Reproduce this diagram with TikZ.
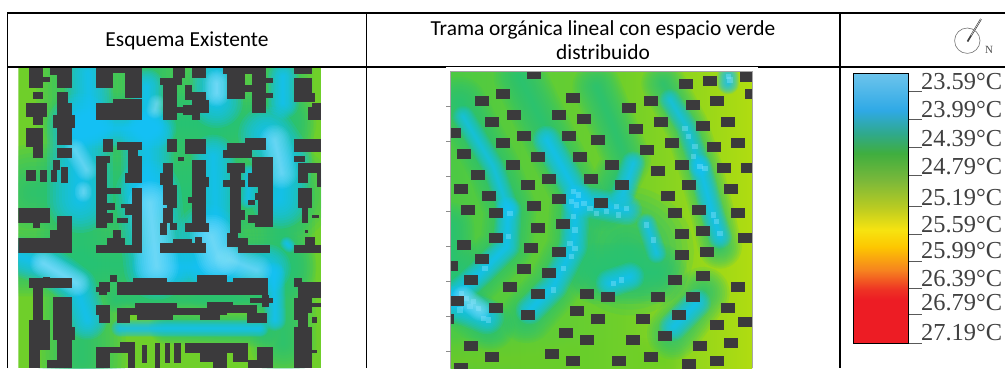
\documentclass[tikz,border=0pt]{standalone}
\usepackage{fontspec}
\setmainfont{Liberation Serif}
\newfontfamily\headfont{Carlito}
\definecolor{bld}{HTML}{3B3A3C}
\definecolor{limeA}{HTML}{6FCF2A}
\definecolor{greenA}{HTML}{4CC944}
\definecolor{tealA}{HTML}{26C27A}
\definecolor{cyanA}{HTML}{14C0FA}
\definecolor{paleA}{HTML}{8FE6FF}
\definecolor{barA}{HTML}{ED1C24}
\definecolor{barB}{HTML}{EE3124}
\definecolor{barC}{HTML}{F6841F}
\definecolor{barD}{HTML}{FDC700}
\definecolor{barE}{HTML}{F7E310}
\definecolor{barF}{HTML}{B8CB22}
\definecolor{barG}{HTML}{7AB83A}
\definecolor{barH}{HTML}{3FAE3F}
\definecolor{barI}{HTML}{2FA98C}
\definecolor{barJ}{HTML}{2FA9E6}
\definecolor{barK}{HTML}{6CC4EC}
\pgfdeclareverticalshading{tempbar}{100bp}{color(0bp)=(barA);color(25bp)=(barA);color(33bp)=(barA);color(34.9bp)=(barB);color(38.6bp)=(barC);color(42.9bp)=(barD);color(46bp)=(barE);color(50.3bp)=(barF);color(55.2bp)=(barG);color(60.2bp)=(barH);color(63.9bp)=(barI);color(68.2bp)=(barJ);color(75bp)=(barK);color(100bp)=(barK)}
\newcommand{\glowline}[4][.14]{\foreach \gw in {2.2,2.0,1.8,1.6,1.4,1.2,1.0,.8,.6,.45,.3,.15}{\draw[#2,line width=\gw*#3 pt,opacity=#1,line cap=round,line join=round] #4;}}
\tikzset{
  rule/.style={black,line width=1.6pt},
  building/.style={fill=bld},
  speck/.style={fill=paleA,opacity=.38},
  headtext/.style={font=\headfont\fontsize{21.4}{24}\selectfont,text=black,align=center},
  templabel/.style={font=\fontsize{24.4}{26}\selectfont,text=black!75,anchor=base west,inner sep=0pt},
  tickline/.style={black!65,line width=.6pt},
}
\begin{document}
\begin{tikzpicture}[x=1pt,y=-1pt]
\useasboundingbox (0,0) rectangle (1005,368);
\fill[white] (0,0) rectangle (1005,368);
% table rules
\draw[rule] (7.3,368) -- (7.3,13) -- (1005,13);
\draw[rule] (7.3,67) -- (1005,67);
\draw[rule] (366.5,13) -- (366.5,368);
\draw[rule] (840,13) -- (840,368);
% headers
\node[headtext] (h1) at (187,41) {Esquema Existente};
\node[headtext] (h2) at (603,40.5) {Trama orgánica lineal con espacio verde\\distribuido};
% left map
\begin{scope}
\clip (18.3,68) rectangle (321,368);
\fill[limeA] (18,68) rectangle (321,368);
\begin{scope}[shift={(0,60)},x=1/3pt,y=-1/3pt]
\glowline{tealA}{40}{(240,30) -- (245,900)}
\glowline{tealA}{45}{(100,400) -- (850,400)}
\glowline{tealA}{40}{(450,30) -- (450,620)}
\glowline{tealA}{40}{(640,100) -- (650,620)}
\glowline{tealA}{30}{(840,30) -- (850,850)}
\glowline{tealA}{30}{(230,190) -- (850,190)}
\glowline{tealA}{30}{(60,610) -- (850,620)}
\glowline{tealA}{12}{(350,720) -- (780,720)}
\glowline{tealA}{16}{(500,800) -- (780,810)}
\glowline[.16]{cyanA}{22}{(265,40) -- (270,180)}
\glowline[.16]{cyanA}{30}{(240,200) -- (240,420)}
\glowline[.16]{cyanA}{18}{(250,205) -- (470,205)}
\glowline[.16]{cyanA}{16}{(440,80) -- (440,190)}
\glowline[.16]{cyanA}{24}{(650,40) -- (650,125)}
\glowline[.16]{cyanA}{14}{(850,50) -- (850,130)}
\glowline[.16]{cyanA}{26}{(800,225) -- (850,300) -- (840,420)}
\glowline[.16]{cyanA}{24}{(440,235) -- (445,400)}
\glowline[.16]{cyanA}{30}{(445,400) -- (470,620)}
\glowline[.16]{cyanA}{20}{(640,290) -- (650,520)}
\glowline[.16]{cyanA}{28}{(620,525) -- (650,610)}
\glowline[.16]{cyanA}{22}{(470,620) -- (800,625)}
\glowline[.16]{cyanA}{10}{(822,640) -- (825,780)}
\glowline[.16]{cyanA}{18}{(60,590) -- (150,620) -- (230,680) -- (262,780)}
\glowline[.14]{cyanA}{8}{(360,805) -- (780,805)}
\glowline[.14]{cyanA}{8}{(748,340) -- (745,420)}
\glowline[.14]{cyanA}{6}{(860,550) -- (868,558)}
\glowline[.09]{paleA}{14}{(825,240) -- (845,340)}
\glowline[.10]{paleA}{20}{(450,430) -- (470,620)}
\glowline[.10]{paleA}{20}{(635,530) -- (655,590)}
\glowline[.10]{paleA}{12}{(130,610) -- (230,670)}
\glowline[.10]{paleA}{12}{(650,70) -- (650,100)}
\glowline[.08]{paleA}{10}{(225,270) -- (260,330)}
\glowline[.08]{paleA}{8}{(250,390) -- (250,400)}
\glowline[.08]{paleA}{8}{(470,130) -- (465,150)}
\glowline[.08]{paleA}{14}{(690,600) -- (770,630)}
\foreach \xa/\ya/\xb/\yb in {
 87/25/130/85, 130/50/150/65, 98/95/130/118, 77/130/140/170, 98/170/130/195, 77/205/130/260, 98/260/130/295,
 150/25/215/45, 172/45/215/85, 172/95/205/130, 172/130/215/165, 160/165/225/205, 172/205/215/255, 172/265/215/295,
 77/330/108/362, 120/330/140/365, 152/330/170/365, 160/300/180/330, 183/320/205/370,
 287/25/340/85, 340/25/425/40, 375/40/425/115, 287/130/425/180, 340/118/425/130,
 520/25/555/55, 575/25/617/55, 480/55/545/75, 490/75/530/105, 490/105/530/180, 555/75/575/105, 555/97/617/120, 575/120/627/160, 520/140/550/160, 550/135/575/165, 575/160/600/180,
 670/25/797/42, 680/42/735/118, 735/75/755/95, 755/42/797/160, 797/55/818/68, 797/100/818/115,
 883/25/935/42, 883/55/935/125, 935/100/945/125, 925/140/963/180, 935/130/963/140,
 310/237/340/275, 352/245/425/270, 385/270/415/290, 287/288/330/310, 385/288/425/340, 375/340/425/368, 287/310/320/505, 320/385/362/403, 320/430/345/450, 320/460/340/490, 362/432/395/445, 375/445/395/465, 352/475/385/490, 395/385/425/580, 287/555/395/580, 320/535/375/555, 340/510/362/535,
 500/237/530/275, 555/237/617/283, 533/290/553/303, 490/310/520/340, 480/340/520/375, 490/375/530/435, 500/435/530/445, 490/445/520/490, 510/490/530/510, 480/490/500/525, 575/300/617/510, 585/350/627/380, 555/490/627/515, 563/410/585/430, 480/550/617/580, 520/538/575/550, 585/530/605/550,
 680/250/797/270, 670/270/690/295, 690/270/755/295, 735/235/797/250, 680/310/735/340, 670/360/735/380, 690/310/722/520, 722/450/735/480, 680/520/715/560, 715/535/745/580, 745/555/810/580, 755/290/818/340, 745/340/818/380, 775/380/818/500, 765/400/790/420, 745/465/775/490, 765/480/818/500, 745/420/765/435,
 883/237/963/275, 883/288/915/305, 895/310/963/340, 895/340/925/368, 950/340/963/380, 895/385/935/445, 905/445/925/490, 935/465/957/475, 915/510/925/518, 915/530/945/560, 883/555/963/580,
 55/445/150/490, 100/490/120/505, 172/467/215/580, 150/510/172/580, 55/555/215/580, 55/535/150/555,
 330/645/352/665, 297/665/330/680, 287/680/330/695, 297/695/320/705, 352/665/805/705, 400/655/500/665, 590/645/680/665, 700/655/805/670, 785/705/808/740, 750/715/818/728,
 287/735/330/765, 297/765/330/790, 352/745/390/790, 390/745/680/765, 405/730/530/765, 410/765/520/780, 600/765/660/780, 680/735/770/760, 740/760/800/790, 620/725/700/745,
 87/655/215/685, 130/650/150/660, 98/685/130/780, 160/710/215/800, 108/780/150/870, 160/800/225/840, 172/840/215/924, 87/780/120/924, 140/900/172/924,
 287/860/405/880, 360/845/405/860, 287/880/330/924, 385/880/405/924, 425/855/440/910, 465/850/480/924, 495/848/510/910, 522/848/542/910, 555/848/745/880, 600/880/680/905, 640/905/680/924, 700/880/745/905, 770/860/818/924, 745/900/770/924,
 883/655/905/680, 905/665/963/715, 895/680/935/760, 883/715/925/780, 895/760/925/924, 883/800/935/924, 935/730/963/740, 935/770/950/790, 935/870/950/880}
 {\fill[building] (\xa,\ya) rectangle (\xb,\yb);}
\end{scope}
\end{scope}
% right map
\fill[white] (446,67.2) rectangle (758,368);
\begin{scope}
\clip (450.7,71.7) rectangle (752,368);
\shade[left color=greenA,right color=limeA] (450,70) rectangle (620,368);
\shade[left color=limeA,right color={rgb,255:red,176;green,220;blue,16}] (620,70) rectangle (752,368);
\begin{scope}[shift={(430,60)},x=1/3pt,y=-1/3pt]
\glowline{limeA}{20}{(60,900) -- (700,900)}
\glowline{tealA}{24}{(90,130) -- (190,320) -- (240,450) -- (230,560) -- (150,640) -- (70,720)}
\glowline{tealA}{24}{(270,50) -- (370,260) -- (440,400) -- (430,560) -- (370,680) -- (290,770)}
\glowline{tealA}{20}{(700,70) -- (770,200) -- (810,320) -- (850,470) -- (870,560)}
\glowline{tealA}{22}{(500,80) -- (590,300) -- (520,440)}
\glowline{tealA}{58}{(590,570) -- (600,575)}
\glowline{tealA}{28}{(500,640) -- (680,640)}
\glowline{tealA}{24}{(820,700) -- (730,820)}
\glowline{tealA}{22}{(60,500) -- (70,720) -- (180,800)}
\glowline[.11]{cyanA}{10}{(100,170) -- (190,320) -- (235,450)}
\glowline[.15]{cyanA}{12}{(235,450) -- (230,560) -- (150,640) -- (70,710)}
\glowline[.15]{cyanA}{13}{(350,240) -- (440,400) -- (430,560) -- (370,680) -- (300,750)}
\glowline[.11]{cyanA}{10}{(720,120) -- (770,200) -- (810,320)}
\glowline[.15]{cyanA}{11}{(810,320) -- (850,470) -- (870,530)}
\glowline[.14]{cyanA}{11}{(610,310) -- (580,400)}
\glowline[.15]{cyanA}{14}{(440,420) -- (590,450)}
\glowline[.13]{cyanA}{9}{(650,490) -- (680,580)}
\glowline[.15]{cyanA}{13}{(540,670) -- (600,650)}
\glowline[.15]{cyanA}{13}{(800,730) -- (730,800)}
\glowline[.15]{cyanA}{16}{(70,730) -- (170,770)}
\glowline[.15]{cyanA}{10}{(895,50) -- (895,70)}
\glowline[.09]{paleA}{10}{(100,710) -- (150,750)}
\foreach \sx/\sy in {430/395,445/405,425/425,440/435,462/430,480/445,500/460,530/455,560/440,590/445,565/465,430/470,435/510,420/550,435/565,425/590,
 95/700,110/715,130/725,120/740,145/745,90/750,160/775,175/780,
 765/205,775/230,795/260,790/290,810/320,825/325,850/465,860/485,870/520,240/460,235/530,400/625,370/690,165/625,650/495,670/540,
 895/50,900/60,550/670,575/660}
 {\fill[speck] (\sx-8,\sy-8) rectangle (\sx+8,\sy+8);}
\foreach \cx/\cy in {313/43,218/103,156/123,430/114,598/145,662/123,767/72,841/62,952/50,788/134,862/123,966/103,
 187/187,251/166,388/166,461/177,693/187,619/208,820/197,893/187,
 72/218,219/250,282/229,418/229,504/239,725/250,651/270,851/261,925/250,
 103/281,324/292,250/314,451/292,546/314,757/314,683/334,883/323,955/323,
 145/345,356/356,293/376,482/356,577/376,778/376,714/408,904/387,
 93/387,177/408,388/418,313/439,514/429,735/460,808/450,925/460,
 114/450,198/460,398/492,324/503,820/512,756/523,946/534,
 198/534,103/554,303/565,388/576,830/576,756/586,
 156/597,62/618,282/628,356/639,735/660,820/649,
 124/660,240/681,925/681,324/702,472/702,535/712,683/712,788/712,
 82/723,198/744,893/744,293/765,441/754,504/776,640/776,746/765,861/796,945/787,50/776,
 408/818,472/839,608/839,704/828,809/859,904/849,124/859,
 187/891,366/881,430/902,567/902,662/891,778/912,862/902,93/923}
 {\fill[building] (\cx-21,\cy-15) rectangle (\cx+21,\cy+15);}
\end{scope}
\end{scope}
\begin{scope}[shift={(430,60)},x=1/3pt,y=-1/3pt]
\draw[black!35,line width=.7pt] (62,924) -- (62,35) -- (968,35) -- (968,924);
\foreach \ty in {140,245,350,455,560,665,770,875}{\draw[black!45,line width=.5pt] (48,\ty) -- (62,\ty);}
\end{scope}
% compass
\fill[white] (845,68.2) rectangle (1005,72);
\draw[black!55,line width=.6pt] (967.3,40.7) circle (12.7);
\draw[black!75,line width=1.7pt] (981,19) -- (967.5,41.5);
\draw[white,line width=.4pt] (981,19) -- (971,35.5);
\node[font=\fontsize{11}{12}\selectfont,text=black!70,inner sep=0pt] (north) at (989,49.5) {N};
% colour bar
\shade[shading=tempbar,draw=black,line width=1.2pt] (853.7,73.5) rectangle (908.7,343.3);
\foreach \i/\ty/\by/\lab in {
 a/91/89.3/23.59,b/119.3/117.3/23.99,c/147.3/146/24.39,d/175.7/174/24.79,e/206.7/205/25.19,
 f/234.3/232.7/25.59,g/261/258.3/25.99,h/288/286.7/26.39,i/314/310/26.79,j/343/340/27.19}{
 \draw[tickline] (908.7,\ty) -- (922,\ty);
 \node[templabel] (lab\i) at (921,\by) {\lab°C};
}
\end{tikzpicture}
\end{document}
